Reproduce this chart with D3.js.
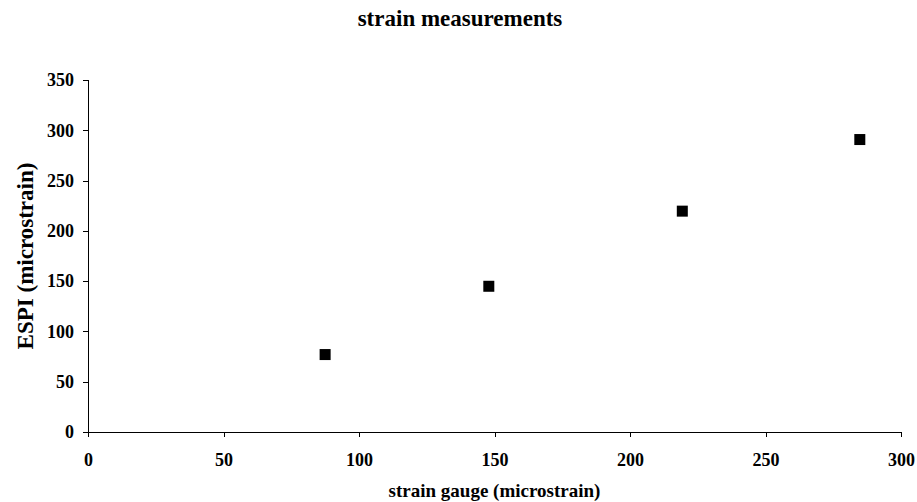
<!DOCTYPE html>
<meta charset="utf-8">
<style>
    body {
        margin: 0;
        background: #fff;
        font-family: "Liberation Serif", "Times New Roman", serif;
    }
    .axis path,
    .axis line {
        fill: none;
        stroke: #000;
        shape-rendering: crispEdges;
    }
    .axis text {
        font-family: "Liberation Serif", "Times New Roman", serif;
        font-weight: bold;
        font-size: 18px;
        fill: #000;
    }
    .label {
        font-family: "Liberation Serif", "Times New Roman", serif;
        font-weight: bold;
        fill: #000;
    }
</style>
<body>
<script src="https://cdn.jsdelivr.net/npm/d3@7/dist/d3.min.js"></script>
<script>

    // strain gauge readings vs ESPI readings (microstrain)
    var gaugeValues = [87.5, 147.9, 219.3, 284.8];
    var espiValues = [77.0, 144.9, 219.6, 290.8];
    var xTicks = [0, 50, 100, 150, 200, 250, 300];
    var yTicks = [0, 50, 100, 150, 200, 250, 300, 350];

    var margin = { top: 80, right: 16, bottom: 70, left: 88 },
        width = 917 - margin.left - margin.right,
        height = 502 - margin.top - margin.bottom;

    var x = d3.scaleLinear().domain([0, 300]).range([0, width]);
    var y = d3.scaleLinear().domain([0, 350]).range([height, 0]);

    var root = d3.select("body").append("svg")
        .attr("width", 917)
        .attr("height", 502);

    var svg = root.append("g")
        .attr("transform", "translate(" + margin.left + "," + margin.top + ")");

    // x-axis
    svg.append("g")
        .attr("class", "x axis")
        .attr("transform", "translate(0," + height + ")")
        .call(d3.axisBottom(x).tickValues(xTicks).tickSize(5).tickSizeOuter(5).tickPadding(16));

    // y-axis
    svg.append("g")
        .attr("class", "y axis")
        .call(d3.axisLeft(y).tickValues(yTicks).tickSize(5).tickSizeOuter(5).tickPadding(9));

    // points
    var pts = gaugeValues.map(function (d, i) { return { x: d, y: espiValues[i] }; });
    var s = 11;
    svg.selectAll(".point")
        .data(pts)
        .enter().append("rect")
        .attr("class", "point")
        .attr("x", function (d) { return x(d.x) - s / 2; })
        .attr("y", function (d) { return y(d.y) - s / 2; })
        .attr("width", s)
        .attr("height", s)
        .attr("fill", "#000");

    // title + axis labels
    root.append("text")
        .attr("class", "label")
        .attr("x", 460).attr("y", 26)
        .attr("text-anchor", "middle")
        .style("font-size", "23px")
        .text("strain measurements");

    root.append("text")
        .attr("class", "label")
        .attr("x", margin.left + width / 2).attr("y", 497)
        .attr("text-anchor", "middle")
        .style("font-size", "19px")
        .text("strain gauge (microstrain)");

    root.append("text")
        .attr("class", "label")
        .attr("transform", "translate(33," + (margin.top + height / 2) + ") rotate(-90)")
        .attr("text-anchor", "middle")
        .style("font-size", "23px")
        .text("ESPI (microstrain)");

</script>
</body>
